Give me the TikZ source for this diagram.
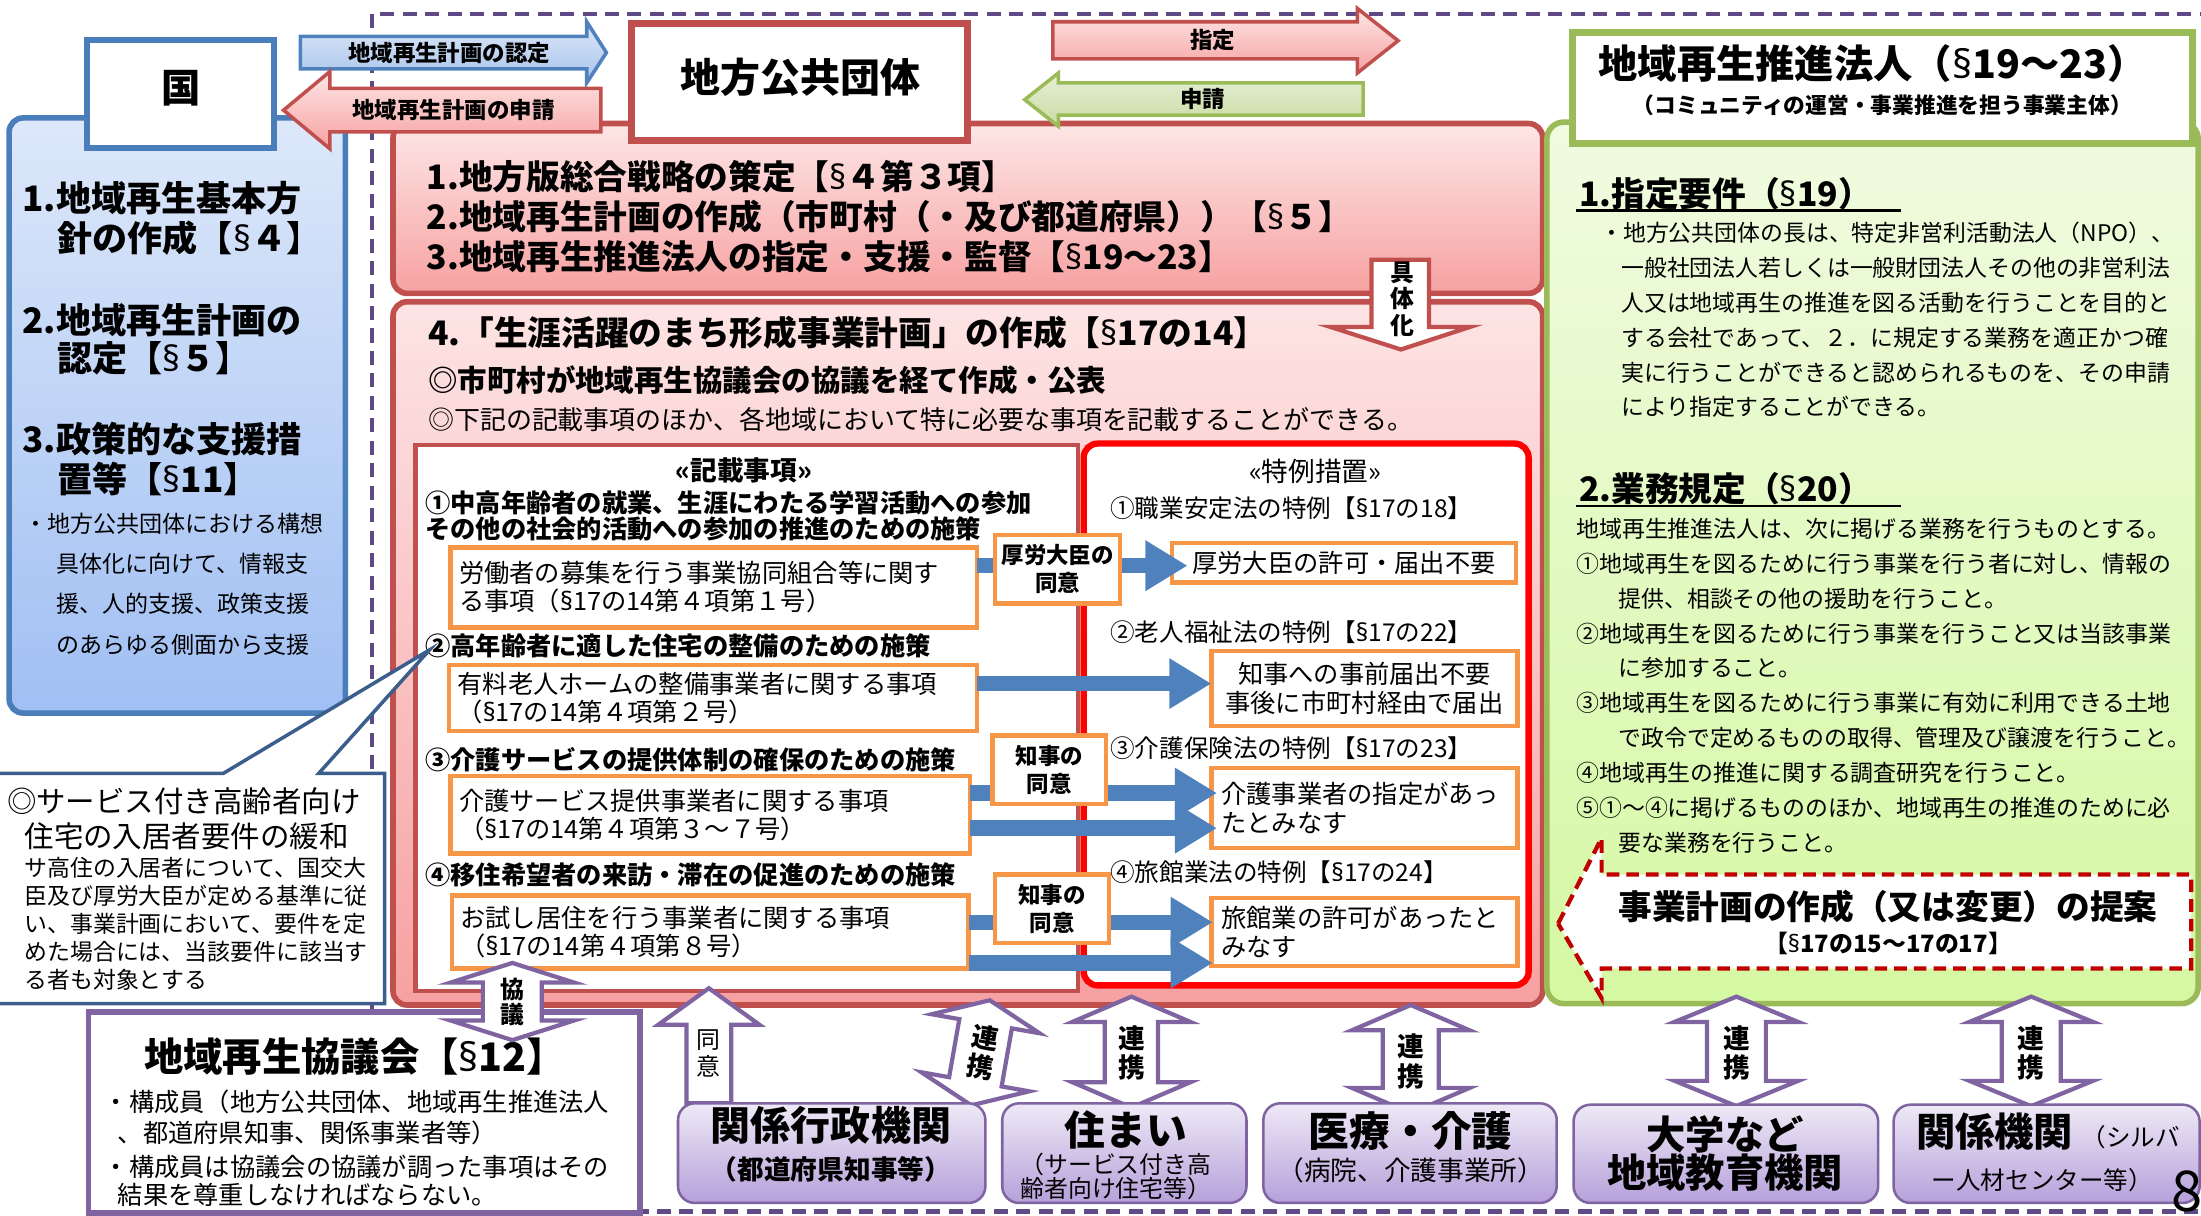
\documentclass[tikz,border=0pt]{standalone}
\usepackage{fontspec}
\setmainfont{Noto Sans CJK JP}
\newfontfamily\latinfont{Noto Sans}
\usetikzlibrary{arrows.meta}
\definecolor{bluebd}{HTML}{4A7EBB}
\definecolor{bluetop}{HTML}{DDE8FA}
\definecolor{bluebot}{HTML}{A0BFF3}
\definecolor{redbd}{HTML}{C0504D}
\definecolor{pinktop}{HTML}{FDE6E6}
\definecolor{pinkbot}{HTML}{F7A1A1}
\definecolor{pinklt}{HTML}{FDE4E4}
\definecolor{pinkmid}{HTML}{FCD8D8}
\definecolor{greenbd}{HTML}{9BBB59}
\definecolor{greentop}{HTML}{F0FBE1}
\definecolor{greenbot}{HTML}{D5F8A2}
\definecolor{orangebd}{HTML}{F79646}
\definecolor{purplebd}{HTML}{8064A2}
\definecolor{purpletop}{HTML}{EEE9F6}
\definecolor{purplebot}{HTML}{B6A0DA}
\definecolor{arrowblue}{HTML}{4F81BD}
\definecolor{callbd}{HTML}{3B5E8C}
\definecolor{dashpurple}{HTML}{5F4A86}
\definecolor{darkred}{HTML}{C00000}
\definecolor{brightred}{HTML}{FF0000}
\definecolor{nintop}{HTML}{DCE7F7}
\definecolor{ninbot}{HTML}{A7C3EC}
\definecolor{gtop}{HTML}{E6EFD6}
\definecolor{gbot}{HTML}{C9DCA3}
\newcommand\myfz[2]{\fontsize{#1pt}{#2pt}\selectfont}
\newcommand\mysec{{\latinfont §}}
\newcommand\mydbl[6]{%
  \draw[parrow] ({#1},{#2}) -- ({#1+#5},{#2+#4}) -- ({#1+#6},{#2+#4}) -- ({#1+#6},{#3-#4}) -- ({#1+#5},{#3-#4}) -- ({#1},{#3}) -- ({#1-#5},{#3-#4}) -- ({#1-#6},{#3-#4}) -- ({#1-#6},{#2+#4}) -- ({#1-#5},{#2+#4}) -- cycle;}
\tikzset{
  every node/.style={inner sep=0pt, outer sep=0pt},
  tl/.style={anchor=west, align=left},
  tc/.style={anchor=center, align=center},
  obox/.style={draw=orangebd, line width=3pt, fill=white, anchor=north west, align=left, inner xsep=6pt, font={\myfz{18}{20}}},
  tbox/.style={draw=orangebd, line width=3pt, fill=white, anchor=north west, inner xsep=7pt, font={\myfz{18}{21}}},
  abox/.style={draw=orangebd, line width=3pt, fill=white, anchor=north west, align=center, font={\myfz{16}{20}\bfseries}},
  pbox/.style={draw=purplebd, line width=1.8pt, top color=purpletop, bottom color=purplebot, rounded corners=12pt, anchor=north west},
  parrow/.style={draw=purplebd, line width=3pt, fill=white, line join=miter},
  conn/.style={draw=arrowblue, line width=11pt, -{Triangle[length=30pt,width=34pt]}},
  ninarrow/.style={draw=arrowblue, line width=2.5pt, top color=nintop, bottom color=ninbot, line join=miter},
  pinkarrow/.style={draw=redbd, line width=2.5pt, top color=pinktop, bottom color=pinkbot, line join=miter},
  grarrow/.style={draw=greenbd, line width=2.5pt, top color=gtop, bottom color=gbot, line join=miter},
}
\begin{document}
\begin{tikzpicture}[x=1pt, y=-1pt]
\useasboundingbox (0,0) rectangle (1568,866);
% outer dashed frame
\draw[dashpurple, line width=3pt, dash pattern=on 10pt off 6pt] (265,10) rectangle (1580,863);

% ===== national panel =====
\draw[line width=4pt, draw=bluebd, top color=bluetop, bottom color=bluebot, rounded corners=10pt] (6.5,84) rectangle (246,508);
\node[draw=bluebd, line width=4pt, fill=white, minimum width=133pt, minimum height=77pt, anchor=north west] (kuni) at (62,28.5) {};
\node[tc, font={\myfz{28}{30}\bfseries}] (kunit) at (129,63) {国};
\node[tl, font={\myfz{25}{28}\bfseries}] (b1a) at (16,141) {1.地域再生基本方};
\node[tl, font={\myfz{25}{28}\bfseries}] (b1b) at (41,170) {針の作成【\mysec{}４】};
\node[tl, font={\myfz{25}{28}\bfseries}] (b2a) at (16,228) {2.地域再生計画の};
\node[tl, font={\myfz{25}{28}\bfseries}] (b2b) at (41,255) {認定【\mysec{}５】};
\node[tl, font={\myfz{25}{28}\bfseries}] (b3a) at (16,313) {3.政策的な支援措};
\node[tl, font={\myfz{25}{28}\bfseries}] (b3b) at (41,341) {置等【\mysec{}11】};
\node[tl, font={\myfz{16.4}{28.7}}] (b3c) at (17.5,416) {・地方公共団体における構想\\\hspace*{22.5pt}具体化に向けて、情報支\\\hspace*{22.5pt}援、人的支援、政策支援\\\hspace*{22.5pt}のあらゆる側面から支援};

% ===== local government panels =====
\draw[line width=4pt, draw=redbd, top color=pinktop, bottom color=pinkbot, rounded corners=10pt] (280,88) rectangle (1099,209);
\draw[line width=4pt, draw=redbd, top color=pinklt, middle color=pinkmid, bottom color=pinkbot, rounded corners=10pt] (280,215) rectangle (1099,716);

% ===== promotion corporation panel =====
\draw[line width=4pt, draw=greenbd, top color=greentop, bottom color=greenbot, rounded corners=12pt] (1102,87) rectangle (1566,715);

% ===== top arrows =====
\draw[ninarrow] (214,26) -- (418,26) -- (418,15.5) -- (432,37.5) -- (418,59) -- (418,49) -- (214,49) -- cycle;
\node[tc, font={\myfz{16}{18}\bfseries}] (nintei) at (320,37.5) {地域再生計画の認定};
\draw[pinkarrow] (202,78.5) -- (235,51) -- (235,63) -- (428,63) -- (428,94) -- (235,94) -- (235,106) -- cycle;
\node[tc, font={\myfz{16}{18}\bfseries}] (shinsei1) at (323,78.5) {地域再生計画の申請};
\draw[pinkarrow] (750,15.5) -- (967,15.5) -- (967,6) -- (996,29) -- (967,52) -- (967,42) -- (750,42) -- cycle;
\node[tc, font={\myfz{16}{18}\bfseries}] (shitei) at (864,28.5) {指定};
\draw[grarrow] (730,71) -- (754,52) -- (754,59) -- (971,59) -- (971,82) -- (754,82) -- (754,90) -- cycle;
\node[tc, font={\myfz{16}{18}\bfseries}] (shinsei2) at (857,70.5) {申請};

\node[draw=redbd, line width=5pt, fill=white, minimum width=239pt, minimum height=83pt, anchor=north west] (chiho) at (450,17) {};
\node[tc, font={\myfz{28.5}{30}\bfseries}] (chihot) at (570,55) {地方公共団体};
\node[draw=greenbd, line width=5pt, fill=white, minimum width=442pt, minimum height=79pt, anchor=north west] (gtitle) at (1120,23) {};
\node[tc, font={\myfz{28}{30}\bfseries}] (gt1) at (1334,45) {地域再生推進法人（\mysec{}19～23）};
\node[tc, font={\myfz{15.5}{17}\bfseries}] (gt2) at (1341,75) {（コミュニティの運営・事業推進を担う事業主体）};

% red panel 1-3 text
\node[tl, font={\myfz{24}{28}\bfseries}] (r1) at (304,126) {1.地方版総合戦略の策定【\mysec{}４第３項】};
\node[tl, font={\myfz{24}{28}\bfseries}] (r2) at (304,154) {2.地域再生計画の作成（市町村（・及び都道府県））【\mysec{}５】};
\node[tl, font={\myfz{24}{28}\bfseries}] (r3) at (304,183) {3.地域再生推進法人の指定・支援・監督【\mysec{}19～23】};

% panel 4 text
\node[tl, font={\myfz{24}{28}\bfseries}] (p4a) at (305,237) {4.「生涯活躍のまち形成事業計画」の作成【\mysec{}17の14】};
\node[tl, font={\myfz{21}{24}\bfseries}] (p4b) at (305,271) {◎市町村が地域再生協議会の協議を経て作成・公表};
\node[tl, font={\myfz{18.5}{21}}] (p4c) at (305,299) {◎下記の記載事項のほか、各地域において特に必要な事項を記載することができる。};

% inner boxes
\draw[line width=3pt, draw=redbd, fill=white] (296,317) rectangle (768,706);
\draw[line width=4.5pt, draw=brightred, fill=white, rounded corners=10pt] (772,316) rectangle (1089,702);

\node[tc, font={\myfz{19}{21}\bfseries}] (kh) at (530,335) {«記載事項»};
\node[tl, font={\myfz{18}{20}\bfseries}] (l1) at (303,358) {①中高年齢者の就業、生涯にわたる学習活動への参加};
\node[tl, font={\myfz{18}{20}\bfseries}] (l1b) at (303,377) {その他の社会的活動への参加の推進のための施策};
\node[tl, font={\myfz{18}{20}\bfseries}] (l2) at (303,460) {②高年齢者に適した住宅の整備のための施策};
\node[tl, font={\myfz{18}{20}\bfseries}] (l3) at (303,541) {③介護サービスの提供体制の確保のための施策};
\node[tl, font={\myfz{18}{20}\bfseries}] (l4) at (303,623) {④移住希望者の来訪・滞在の促進のための施策};

\node[obox, minimum width=375pt, minimum height=57pt, text width=363pt] (k1) at (321,390) {労働者の募集を行う事業協同組合等に関す\\る事項（\mysec{}17の14第４項第１号）};
\node[obox, minimum width=376pt, minimum height=47pt, text width=364pt] (k2) at (320,474) {有料老人ホームの整備事業者に関する事項\\（\mysec{}17の14第４項第２号）};
\node[obox, minimum width=370pt, minimum height=55pt, text width=358pt] (k3) at (321,553) {介護サービス提供事業者に関する事項\\（\mysec{}17の14第４項第３～７号）};
\node[obox, minimum width=368pt, minimum height=52pt, text width=356pt] (k4) at (322,638) {お試し居住を行う事業者に関する事項\\（\mysec{}17の14第４項第８号）};

\node[tc, font={\myfz{19}{21}}] (th) at (937,336) {«特例措置»};
\node[tl, font={\myfz{17.5}{20}}] (s1) at (791,362) {①職業安定法の特例【\mysec{}17の18】};
\node[tl, font={\myfz{17.5}{20}}] (s2) at (791,450) {②老人福祉法の特例【\mysec{}17の22】};
\node[tl, font={\myfz{17.5}{20}}] (s3) at (791,533) {③介護保険法の特例【\mysec{}17の23】};
\node[tl, font={\myfz{17.5}{20}}] (s4) at (791,621) {④旅館業法の特例【\mysec{}17の24】};

\node[tbox, minimum width=245pt, minimum height=28pt, align=center] (tt1) at (835,387) {厚労大臣の許可・届出不要};
\node[tbox, minimum width=218pt, minimum height=53pt, align=center] (tt2) at (863,464) {知事への事前届出不要\\事後に市町村経由で届出};
\node[tbox, minimum width=218pt, minimum height=57pt, text width=204pt, align=left] (tt3) at (863,547) {介護事業者の指定があっ\\たとみなす};
\node[tbox, minimum width=218pt, minimum height=48pt, text width=204pt, align=left] (tt4) at (863,640) {旅館業の許可があったと\\みなす};

% blue connectors
\coordinate (e1) at ([xshift=11pt,yshift=-2pt]tt1.west);
\coordinate (e2) at ([yshift=3.5pt]tt2.west);
\coordinate (e3a) at ([xshift=4pt,yshift=10.5pt]tt3.west);
\coordinate (e3b) at ([xshift=4pt,yshift=-14.5pt]tt3.west);
\coordinate (e4a) at ([xshift=1pt,yshift=7pt]tt4.west);
\coordinate (e4b) at ([xshift=1pt,yshift=-22pt]tt4.west);
\draw[conn] (k1.east |- e1) -- (e1);
\draw[conn] (k2.east |- e2) -- (e2);
\draw[conn] (k3.east |- e3a) -- (e3a);
\draw[conn] (k3.east |- e3b) -- (e3b);
\draw[conn] (k4.east |- e4a) -- (e4a);
\draw[conn] (k4.east |- e4b) -- (e4b);

\node[abox, minimum width=89pt, minimum height=49pt] (ap1) at (709,381) {厚労大臣の\\同意};
\node[abox, minimum width=81pt, minimum height=49pt] (ap2) at (707,524) {知事の\\同意};
\node[abox, minimum width=81pt, minimum height=49pt] (ap3) at (709,623) {知事の\\同意};

% gutaika arrow
\draw[line width=3pt, draw=redbd, fill=white, line join=miter] (977,185) -- (1018,185) -- (1018,233) -- (1047,233) -- (998,249) -- (948,233) -- (977,233) -- cycle;
\node[tc, font={\myfz{17}{19}\bfseries}] (gut) at (999,213) {具\\体\\化};

% ===== green panel text =====
\node[tl, font={\myfz{24}{28}\bfseries}] (g1) at (1125,138) {1.指定要件（\mysec{}19）};
\draw[line width=1.5pt] (1123,150) -- (1354,150);
\node[tl, font={\myfz{16.3}{24.8}}] (g1t) at (1140,228) {・地方公共団体の長は、特定非営利活動法人（NPO）、\\\hspace*{15pt}一般社団法人若しくは一般財団法人その他の非営利法\\\hspace*{15pt}人又は地域再生の推進を図る活動を行うことを目的と\\\hspace*{15pt}する会社であって、２．に規定する業務を適正かつ確\\\hspace*{15pt}実に行うことができると認められるものを、その申請\\\hspace*{15pt}により指定することができる。};
\node[tl, font={\myfz{24}{28}\bfseries}] (g2) at (1125,348) {2.業務規定（\mysec{}20）};
\draw[line width=1.5pt] (1123,360.5) -- (1354,360.5);
\node[tl, font={\myfz{16.3}{24.8}}] (g2t) at (1123,488.5) {地域再生推進法人は、次に掲げる業務を行うものとする。\\①地域再生を図るために行う事業を行う者に対し、情報の\\\hspace*{30pt}提供、相談その他の援助を行うこと。\\②地域再生を図るために行う事業を行うこと又は当該事業\\\hspace*{30pt}に参加すること。\\③地域再生を図るために行う事業に有効に利用できる土地\\\hspace*{30pt}で政令で定めるものの取得、管理及び譲渡を行うこと。\\④地域再生の推進に関する調査研究を行うこと。\\⑤①～④に掲げるもののほか、地域再生の推進のために必\\\hspace*{30pt}要な業務を行うこと。};

% proposal arrow
\draw[line width=3pt, draw=darkred, dash pattern=on 9pt off 5pt, fill=white] (1110,658) -- (1141,597) -- (1141,623) -- (1561,623) -- (1561,690) -- (1141,690) -- (1141,711) -- cycle;
\node[tc, font={\myfz{24}{26}\bfseries}] (pr1) at (1345,646) {事業計画の作成（又は変更）の提案};
\node[tc, font={\myfz{17}{19}\bfseries}] (pr2) at (1345,672) {【\mysec{}17の15～17の17】};

% ===== callout =====
\draw[line width=2.5pt, draw=callbd, fill=white, line join=miter] (-3,551) -- (159,551) -- (306,463) -- (227,551) -- (274,551) -- (274,715) -- (-3,715) -- cycle;
\node[tl, font={\myfz{21}{24}}] (c1) at (5,571) {◎サービス付き高齢者向け};
\node[tl, font={\myfz{21}{24}}] (c2) at (17.5,596) {住宅の入居者要件の緩和};
\node[tl, font={\myfz{16.3}{20}}] (c3) at (17.5,658) {サ高住の入居者について、国交大\\臣及び厚労大臣が定める基準に従\\い、事業計画において、要件を定\\めた場合には、当該要件に該当す\\る者も対象とする};

% ===== council =====
\node[draw=purplebd, line width=4pt, fill=white, minimum width=393pt, minimum height=143pt, anchor=north west] (kyo) at (63,721) {};
\node[tc, font={\myfz{28}{30}\bfseries}] (kyot) at (253,753) {地域再生協議会【\mysec{}12】};
\node[tl, font={\myfz{18}{20}}] (kya) at (74,785) {・構成員（地方公共団体、地域再生推進法人};
\node[tl, font={\myfz{18}{20}}] (kyb) at (84,807) {、都道府県知事、関係事業者等）};
\node[tl, font={\myfz{18}{20}}] (kyc) at (74,831) {・構成員は協議会の協議が調った事項はその};
\node[tl, font={\myfz{18}{20}}] (kyd) at (84,851) {結果を尊重しなければならない。};

\mydbl{365}{686}{741}{14}{44}{21}
\node[tc, font={\myfz{17}{18}\bfseries}] (kyogi) at (365,714) {協\\議};

% consent arrow
\draw[parrow] (505,704) -- (541,730) -- (521,730) -- (521,786) -- (489,786) -- (489,730) -- (469,730) -- cycle;
\node[tc, font={\myfz{17}{19}}] (doi) at (505,750.5) {同\\意};

% cooperation arrows
\begin{scope}[shift={(698.5,750)}, rotate=-10]
\mydbl{0}{-38}{38}{17}{39}{19}
\end{scope}
\node[tc, font={\myfz{19}{21}\bfseries}, rotate=-10] (rk1) at (700,750) {連\\携};
\mydbl{806}{710}{789}{18}{42}{19}
\node[tc, font={\myfz{19}{21}\bfseries}] (rk2) at (806,750) {連\\携};
\mydbl{1005}{716}{793}{18}{42}{20}
\node[tc, font={\myfz{19}{21}\bfseries}] (rk3) at (1005,756) {連\\携};
\mydbl{1237}{710}{788}{18}{44}{21}
\node[tc, font={\myfz{19}{21}\bfseries}] (rk4) at (1237,750) {連\\携};
\mydbl{1447}{710}{788}{18}{44}{21}
\node[tc, font={\myfz{19}{21}\bfseries}] (rk5) at (1447,750) {連\\携};

% bottom boxes
\node[pbox, minimum width=219pt, minimum height=71pt] (kg) at (483,786) {};
\node[tc, font={\myfz{28.5}{30}\bfseries}] (kg1) at (592,802) {関係行政機関};
\node[tc, font={\myfz{19}{21}\bfseries}] (kg2) at (592,833) {（都道府県知事等）};
\node[pbox, minimum width=174pt, minimum height=71pt] (sm) at (714,786) {};
\node[tc, font={\myfz{29}{30}\bfseries}] (sm1) at (802,805) {住まい};
\node[tl, font={\myfz{17}{17}}] (sm2) at (727,838) {（サービス付き高\\齢者向け住宅等）};
\node[pbox, minimum width=209pt, minimum height=71pt] (iry) at (900,786) {};
\node[tc, font={\myfz{29}{30}\bfseries}] (iry1) at (1005,806) {医療・介護};
\node[tc, font={\myfz{19}{21}}] (iry2) at (1005,834) {（病院、介護事業所）};
\node[pbox, minimum width=217pt, minimum height=70pt] (dai) at (1121,787) {};
\node[tc, font={\myfz{28}{27}\bfseries}] (dai1) at (1229,822) {大学など\\地域教育機関};
\node[pbox, minimum width=218pt, minimum height=70pt] (kik) at (1349,787) {};
\node[tl, font={\myfz{28}{30}\bfseries}] (kik1) at (1365,806) {関係機関};
\node[tl, font={\myfz{17.5}{20}}] (kik2) at (1483,810) {（シルバ};
\node[tc, font={\myfz{17.5}{20}}] (kik3) at (1455,841) {ー人材センター等）};

\node[anchor=north, font={\myfz{40}{40}}] (pg) at (1558,834) {8};
\end{tikzpicture}
\end{document}
